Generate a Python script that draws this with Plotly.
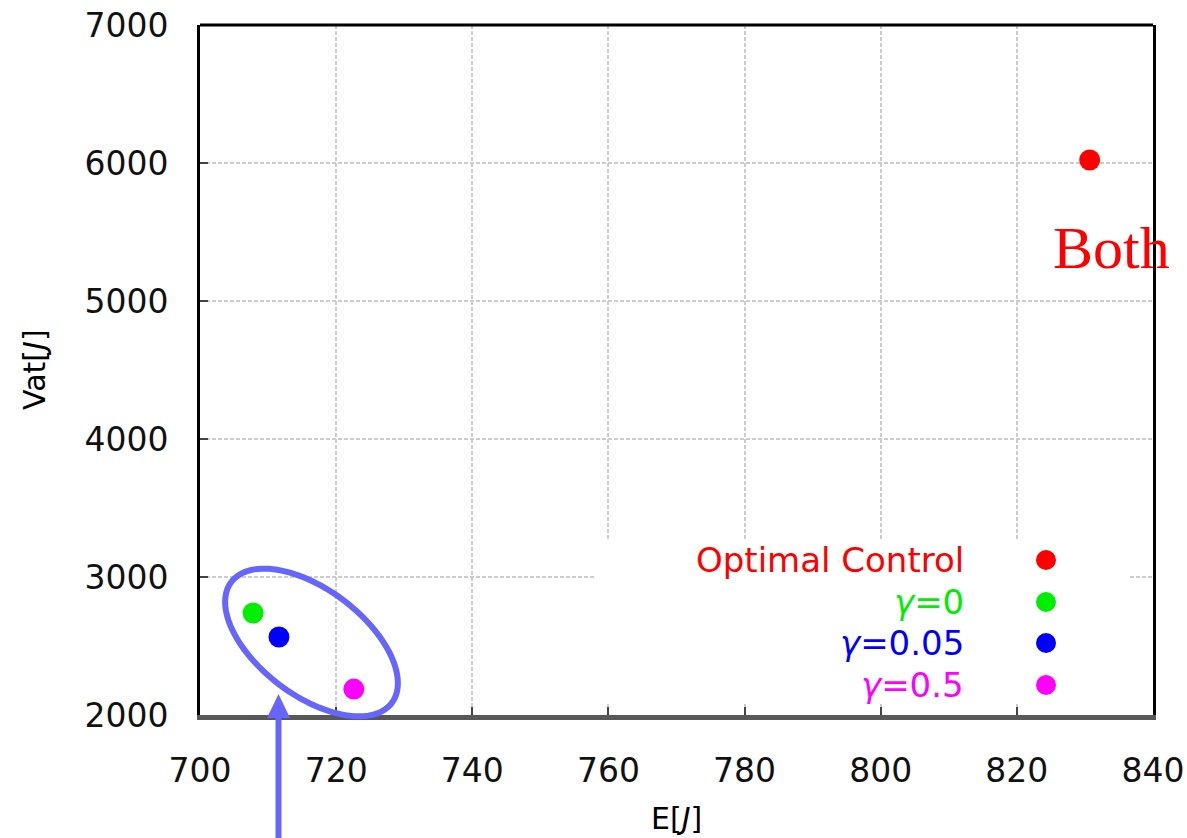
import numpy as np
import plotly.graph_objects as go

# ---- data ----
series_names = ["Optimal Control", "γ=0", "γ=0.05", "γ=0.5"]
series_labels = ["Optimal Control", "<i>γ</i>=0", "<i>γ</i>=0.05", "<i>γ</i>=0.5"]
energy_E = [830.7, 707.8, 711.6, 722.6]
vat_V = [6022, 2739, 2565, 2188]
series_colors = ["#ff0000", "#00ee00", "#0000ff", "#ff00ff"]
x_ticks = [700, 720, 740, 760, 780, 800, 820, 840]
y_ticks = [2000, 3000, 4000, 5000, 6000, 7000]

W, H = 1187, 838
L, R, T, B = 200, 34, 25, 123
PW, PH = W - L - R, H - T - B


def px(x):
    return (x - L) / PW


def py(y):
    return (H - B - y) / PH


fig = go.Figure()
for name, xv, yv, c in zip(series_names, energy_E, vat_V, series_colors):
    fig.add_trace(go.Scatter(
        x=[xv], y=[yv], mode="markers", name=name,
        marker=dict(color=c, size=21, line=dict(width=0)),
        showlegend=False, cliponaxis=False))

shapes = []
# legend background box (covers grid)
shapes.append(dict(type="rect", xref="paper", yref="paper", layer="above",
                   x0=px(596), x1=px(1130), y0=py(704), y1=py(540),
                   fillcolor="white", line=dict(width=0)))
# top border
shapes.append(dict(type="line", xref="paper", yref="paper",
                   x0=0, x1=1, y0=1, y1=1, line=dict(color="black", width=3)))

annotations = []
legend_rows = [560, 602, 643, 685]
for lab, c, yy in zip(series_labels, series_colors, legend_rows):
    annotations.append(dict(xref="paper", yref="paper", x=px(966), y=py(yy),
                            xanchor="right", yanchor="middle", showarrow=False,
                            text=lab, font=dict(family="DejaVu Sans", size=34, color=c)))
    r = 10
    shapes.append(dict(type="circle", xref="paper", yref="paper", layer="above",
                       x0=px(1046 - r), x1=px(1046 + r), y0=py(yy + r), y1=py(yy - r),
                       fillcolor=c, line=dict(width=0)))

# ellipse around the gamma points
cx, cy, a, b, th = 311.5, 642.5, 100.5, 53.0, np.deg2rad(37)
t = np.linspace(0, 2 * np.pi, 121)
ex = cx + a * np.cos(t) * np.cos(th) - b * np.sin(t) * np.sin(th)
ey = cy + a * np.cos(t) * np.sin(th) + b * np.sin(t) * np.cos(th)
path = "M " + " L ".join(f"{px(xx):.5f},{py(yy):.5f}" for xx, yy in zip(ex, ey)) + " Z"
shapes.append(dict(type="path", xref="paper", yref="paper", path=path,
                   line=dict(color="#6666ff", width=6)))

# arrow
shapes.append(dict(type="line", xref="paper", yref="paper",
                   x0=px(278.5), x1=px(278.5), y0=py(838), y1=py(712),
                   line=dict(color="#6666ff", width=6)))
shapes.append(dict(type="path", xref="paper", yref="paper",
                   path=f"M {px(267):.5f},{py(718):.5f} L {px(290):.5f},{py(718):.5f} L {px(278.5):.5f},{py(694):.5f} Z",
                   fillcolor="#6666ff", line=dict(width=0)))

annotations.append(dict(xref="paper", yref="paper", x=px(1111), y=py(248),
                        xanchor="center", yanchor="middle", showarrow=False,
                        text="Both", font=dict(family="Liberation Serif", size=60, color="#ff0000")))
annotations.append(dict(xref="paper", yref="paper", x=px(676), y=py(818),
                        xanchor="center", yanchor="middle", showarrow=False,
                        text="E[<i>J</i>]", font=dict(family="DejaVu Sans", size=30, color="black")))
annotations.append(dict(xref="paper", yref="paper", x=px(34), y=py(370),
                        xanchor="center", yanchor="middle", showarrow=False, textangle=-90,
                        text="Vat[<i>J</i>]", font=dict(family="DejaVu Sans", size=30, color="black")))

axis_common = dict(showgrid=True, gridcolor="#cccccc", gridwidth=2, griddash="4px,2px",
                   ticks="inside", ticklen=8, tickwidth=2, tickcolor="#444444",
                   zeroline=False, ticklabelstandoff=22, automargin=False,
                   tickfont=dict(family="DejaVu Sans", size=33, color="#111111"))

fig.update_layout(
    width=W, height=H, margin=dict(l=L, r=R, t=T, b=B, autoexpand=False),
    paper_bgcolor="white", plot_bgcolor="white",
    xaxis=dict(range=[700, 840], tickvals=x_ticks, ticktext=[str(v) for v in x_ticks],
               showline=True, linecolor="#585858", linewidth=5, mirror=False, **axis_common),
    yaxis=dict(range=[2000, 7000], tickvals=y_ticks, ticktext=[str(v) for v in y_ticks],
               showline=True, linecolor="black", linewidth=3, mirror=True, **axis_common),
    shapes=shapes, annotations=annotations,
)

fig.write_html("out.html")
